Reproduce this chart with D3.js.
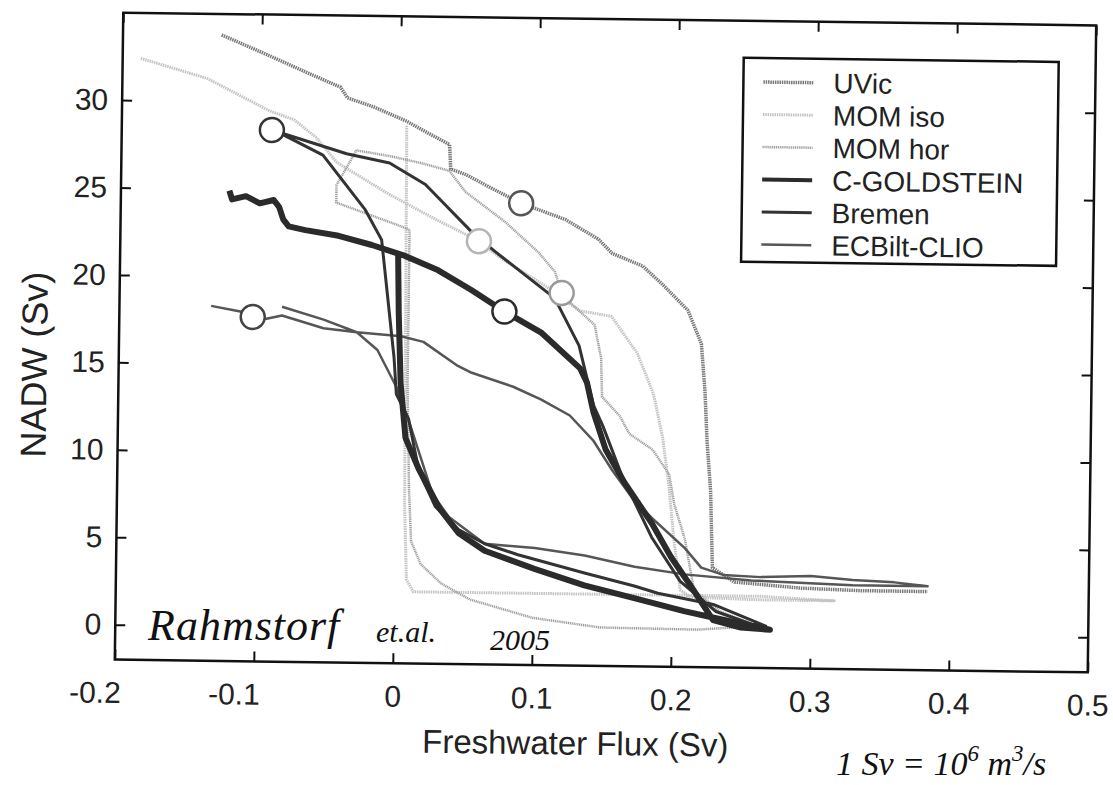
<!DOCTYPE html>
<html>
<head>
<meta charset="utf-8">
<script src="https://cdn.jsdelivr.net/npm/d3@7"></script>
<style>
  body { margin: 0; background: #fff; }
  svg { display: block; }
  text { font-family: "Liberation Sans", Arial, sans-serif; fill: #222; }
  .hand { font-family: "Liberation Serif", serif; font-style: italic; fill: #111; }
</style>
</head>
<body>
<div id="chart"></div>
<script>
// model names, in legend order
const models = ["UVic", "MOM iso", "MOM hor", "C-GOLDSTEIN", "Bremen", "ECBilt-CLIO"];

const xTicks = [-0.2, -0.1, 0, 0.1, 0.2, 0.3, 0.4, 0.5];
const yTicks = [0, 5, 10, 15, 20, 25, 30];

// [freshwater flux (Sv), NADW (Sv)]
const uvic = [[-0.129,33.8],[-0.096,32.7],[-0.067,31.7],[-0.043,30.9],[-0.038,30.3],[-0.019,29.8],[0.005,29.0],
  [0.019,28.4],[0.036,27.7],[0.037,26.3],[0.048,26.0],[0.065,25.3],[0.088,24.4],[0.120,23.5],[0.144,22.4],
  [0.154,21.6],[0.176,20.9],[0.190,19.9],[0.209,18.4],[0.219,16.5],[0.222,13.8],[0.224,10.9],[0.227,8.1],
  [0.229,3.7],[0.245,2.9],[0.293,2.6],[0.336,2.5],[0.384,2.5]];

const momIso = [[-0.187,32.4],[-0.139,31.3],[-0.094,29.5],[-0.076,29.0],[-0.060,28.0],[-0.045,26.6],
  [-0.009,24.9],[0.027,23.4],[0.053,22.4],[0.077,21.1],[0.106,19.7],[0.131,18.3],[0.154,18.0],[0.173,15.9],
  [0.185,13.6],[0.192,11.1],[0.197,8.3],[0.201,5.3],[0.206,2.4],[0.214,2.0],[0.264,1.9],[0.317,1.9],
  [0.264,2.1],[0.185,2.1],[0.113,2.1],[0.041,2.1],[0.014,2.1],[0.009,2.8],[0.007,7.1],[0.006,18.0],
  [0.005,28.8]];

const momHor = [[-0.031,27.3],[-0.007,27.0],[0.017,26.6],[0.036,26.2],[0.048,25.0],[0.077,23.3],[0.101,21.6],
  [0.113,20.5],[0.118,19.3],[0.125,18.7],[0.142,17.5],[0.147,15.6],[0.148,13.4],[0.161,12.3],[0.168,11.3],
  [0.185,10.4],[0.197,9.0],[0.201,7.3],[0.209,5.3],[0.216,2.4],[0.235,1.2],[0.262,0.4],
  [0.219,0.15],[0.149,0.2],[0.100,0.7],[0.055,1.7],[0.034,2.6],[0.019,3.7],[0.012,5.0],[0.010,8.0],
  [0.008,14.0],[0.008,22.8],[-0.002,23.1],[-0.045,24.3],[-0.045,25.3],[-0.031,27.3]];

const cGoldstein = [[-0.122,24.9],[-0.120,24.4],[-0.110,24.6],[-0.100,24.2],[-0.090,24.4],[-0.086,24.0],
  [-0.083,23.3],[-0.079,22.9],[-0.067,22.7],[-0.043,22.4],[-0.019,21.9],[0.005,21.3],[0.029,20.5],[0.053,19.4],
  [0.077,18.2],[0.104,17.0],[0.132,15.0],[0.137,14.2],[0.142,12.5],[0.151,10.4],[0.165,8.5],[0.185,6.2],
  [0.199,4.3],[0.214,2.6],[0.230,0.7],[0.250,0.3],[0.271,0.2],
  [0.233,0.8],[0.209,1.2],[0.173,1.9],[0.137,2.6],[0.101,3.5],[0.065,4.5],[0.046,5.5],[0.032,6.9],
  [0.017,9.1],[0.007,10.9],[0.003,14.0],[0.001,18.0],[0.000,21.4]];

const bremen = [[-0.092,28.4],[-0.067,27.8],[-0.038,27.1],[-0.007,26.6],[0.019,25.4],[0.053,22.7],[0.070,21.6],
  [0.113,19.0],[0.131,16.3],[0.142,12.9],[0.149,11.7],[0.163,8.9],[0.185,5.4],[0.206,2.9],[0.232,1.2],
  [0.258,0.5],[0.268,0.4],
  [0.230,1.6],[0.190,2.2],[0.173,2.6],[0.137,3.3],[0.089,4.3],[0.065,4.9],[0.046,5.7],[0.029,7.0],
  [0.017,9.0],[0.009,12.0],[0.000,13.4],[-0.002,15.5],[-0.012,22.2],[-0.024,23.9],[-0.055,27.0],
  [-0.083,28.1],[-0.092,28.4]];

const ecbilt = [[-0.134,18.3],[-0.113,18.0],[-0.104,17.7],[-0.094,17.6],[-0.083,17.8],[-0.053,17.1],
  [-0.029,16.9],[0.003,16.7],[0.019,16.4],[0.043,15.1],[0.053,14.7],[0.084,13.9],[0.104,13.2],[0.125,12.3],
  [0.142,10.9],[0.156,9.2],[0.171,7.6],[0.185,6.5],[0.209,4.8],[0.221,3.7],[0.237,3.3],[0.264,3.2],
  [0.300,3.3],[0.330,3.1],[0.360,3.0],[0.384,2.8],
  [0.330,2.8],[0.257,3.0],[0.209,3.3],[0.173,3.7],[0.137,4.3],[0.101,4.7],[0.065,4.9],[0.039,6.4],
  [0.027,7.7],[0.010,11.7],[0.000,13.8],[-0.014,15.9],[-0.029,16.9],[-0.053,17.6],[-0.083,18.3]];

// present-day state of each model (open circles), same order as models
const presentDay = [[0.088,24.4],[0.058,22.2],[0.118,19.3],[0.077,18.2],[-0.092,28.4],[-0.104,17.7]];

const curves = [uvic, momIso, momHor, cGoldstein, bremen, ecbilt];

// look of each model line (grayscale scan)
const styles = [
  {stroke: "#7a7a7a", width: 3.5, dash: "1.5,0.8", circle: "#555"},
  {stroke: "#c4c4c4", width: 3,   dash: "1.5,0.8", circle: "#b5b5b5"},
  {stroke: "#a0a0a0", width: 2.5, dash: "1.2,0.7", circle: "#9a9a9a"},
  {stroke: "#2b2b2b", width: 6,   dash: null,      circle: "#2b2b2b"},
  {stroke: "#333333", width: 3,   dash: null,      circle: "#333"},
  {stroke: "#565656", width: 2.5, dash: null,      circle: "#444"}
];
const drawOrder = [1, 2, 0, 5, 4, 3];

const W = 1113, H = 785;
const svg = d3.select("#chart").append("svg")
  .attr("width", W).attr("height", H);

const mLeft = 119, mRight = 1092, mTop = 19, mBottom = 666;
const x = d3.scaleLinear().domain([-0.2, 0.5]).range([mLeft, mRight]);
const y = d3.scaleLinear().domain([-2, 35]).range([mBottom, mTop]);

// the scan is slightly tilted
const g = svg.append("g")
  .attr("transform", `rotate(0.75, ${(mLeft + mRight) / 2}, ${(mTop + mBottom) / 2})`);

const line = d3.line().x(d => x(d[0])).y(d => y(d[1]));

// curves
drawOrder.forEach(i => {
  const s = styles[i];
  g.append("path")
    .datum(curves[i])
    .attr("d", line)
    .attr("fill", "none")
    .attr("stroke", s.stroke)
    .attr("stroke-width", s.width)
    .attr("stroke-dasharray", s.dash)
    .attr("stroke-linejoin", "round");
});

// present-day circles
g.selectAll("circle.pd")
  .data(presentDay)
  .join("circle")
  .attr("class", "pd")
  .attr("cx", d => x(d[0]))
  .attr("cy", d => y(d[1]))
  .attr("r", 12)
  .attr("fill", "#fff")
  .attr("stroke", (d, i) => styles[i].circle)
  .attr("stroke-width", 2.5);

// frame with inward ticks on all four sides
g.append("rect")
  .attr("x", mLeft).attr("y", mTop)
  .attr("width", mRight - mLeft).attr("height", mBottom - mTop)
  .attr("fill", "none").attr("stroke", "#111").attr("stroke-width", 2.5);

const tickLen = 10;
const axisBottom = d3.axisBottom(x).tickValues(xTicks).tickSize(-tickLen).tickPadding(22)
  .tickFormat(d => d === 0 ? "0" : d3.format(".1f")(d).replace("−", "-"));
const axisLeft = d3.axisLeft(y).tickValues(yTicks).tickSize(-tickLen).tickPadding(14);

const gx = g.append("g").attr("transform", `translate(0,${mBottom})`).call(axisBottom);
const gy = g.append("g").attr("transform", `translate(${mLeft},0)`).call(axisLeft);
g.append("g").attr("transform", `translate(0,${mTop})`)
  .call(d3.axisTop(x).tickValues(xTicks).tickSize(-tickLen).tickFormat(""));
g.append("g").attr("transform", `translate(${mRight},0)`)
  .call(d3.axisRight(y).tickValues(yTicks).tickSize(-tickLen).tickFormat(""));

g.selectAll(".domain").remove();
g.selectAll(".tick line").attr("stroke", "#111").attr("stroke-width", 2);
g.selectAll(".tick text").attr("font-size", 30).attr("fill", "#222")
  .attr("font-family", "'Liberation Sans', Arial, sans-serif");
// minus-signed labels sit a little left, as in the original
gx.selectAll(".tick text").attr("dx", d => d < 0 ? -20 : 0);

// axis titles
g.append("text")
  .attr("x", (mLeft + mRight) / 2 - 25).attr("y", 755)
  .attr("text-anchor", "middle").attr("font-size", 33)
  .text("Freshwater Flux (Sv)");
g.append("text")
  .attr("transform", `translate(47, 372) rotate(-90)`)
  .attr("text-anchor", "middle").attr("font-size", 36)
  .text("NADW (Sv)");

// legend
const lx = 740, ly = 56, lw = 315, lh = 204, rowH = 32.5;
const legend = g.append("g");
legend.append("rect")
  .attr("x", lx).attr("y", ly).attr("width", lw).attr("height", lh)
  .attr("fill", "#fff").attr("stroke", "#111").attr("stroke-width", 2.5);
models.forEach((m, i) => {
  const s = styles[i];
  const cy = ly + 24 + i * rowH;
  legend.append("line")
    .attr("x1", lx + 20).attr("x2", lx + 70)
    .attr("y1", cy).attr("y2", cy)
    .attr("stroke", s.stroke)
    .attr("stroke-width", Math.min(s.width, 4))
    .attr("stroke-dasharray", s.dash);
  legend.append("text")
    .attr("x", lx + 90).attr("y", cy)
    .attr("dy", "0.36em")
    .attr("font-size", 28)
    .text(m);
});

// handwritten notes on the copy
svg.append("text").attr("class", "hand")
  .attr("x", 148).attr("y", 640).attr("font-size", 44).attr("letter-spacing", 1)
  .text("Rahmstorf");
svg.append("text").attr("class", "hand")
  .attr("x", 376).attr("y", 642).attr("font-size", 30)
  .text("et.al.");
svg.append("text").attr("class", "hand")
  .attr("x", 490).attr("y", 650).attr("font-size", 30)
  .text("2005");

const note = svg.append("text").attr("class", "hand")
  .attr("x", 836).attr("y", 775).attr("font-size", 34);
note.append("tspan").text("1 Sv = 10");
note.append("tspan").attr("dy", -14).attr("font-size", 23).text("6");
note.append("tspan").attr("dy", 14).text(" m");
note.append("tspan").attr("dy", -14).attr("font-size", 23).text("3");
note.append("tspan").attr("dy", 14).text("/s");
</script>
</body>
</html>
